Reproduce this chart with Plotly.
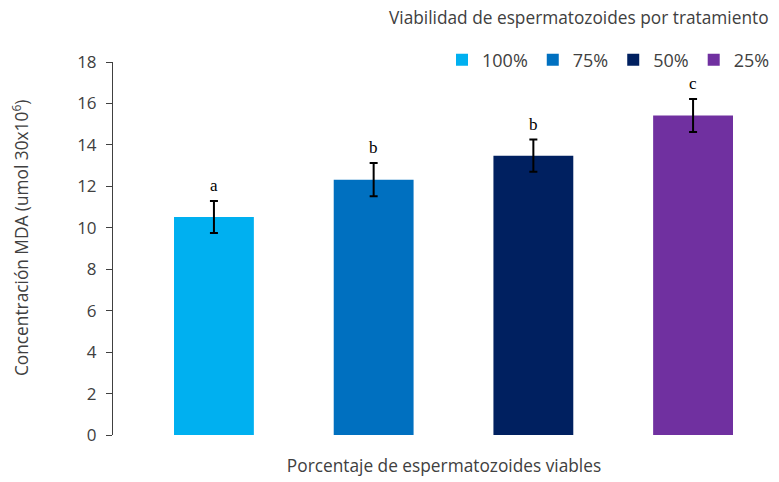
import plotly.graph_objects as go

# Treatment groups (sperm viability) and measured MDA concentration
treatments = ["100%", "75%", "50%", "25%"]
mda_values = [10.52, 12.32, 13.48, 15.42]
mda_errors = [0.77, 0.80, 0.78, 0.80]
sig_letters = ["a", "b", "b", "c"]
bar_colors = ["#00B0F0", "#0070C0", "#002060", "#7030A0"]
y_ticks = [0, 2, 4, 6, 8, 10, 12, 14, 16, 18]

FONT = "'Open Sans', Lato, sans-serif"
TXT = "#404040"

fig = go.Figure()
for name, val, err, col in zip(treatments, mda_values, mda_errors, bar_colors):
    fig.add_trace(go.Bar(
        x=[name], y=[val], name=name, width=0.5,
        marker=dict(color=col, line=dict(width=0)),
        error_y=dict(type="data", array=[err], color="black", thickness=2, width=4),
    ))

# Significance letters above the error bars
for name, val, err, letter in zip(treatments, mda_values, mda_errors, sig_letters):
    fig.add_annotation(
        x=name, y=val + err, text=letter, showarrow=False,
        yanchor="bottom", yshift=4,
        font=dict(family="Liberation Serif, serif", size=17, color="black"),
    )

# Legend heading
fig.add_annotation(
    xref="paper", yref="paper", x=0.994, y=1.118, xanchor="right", yanchor="middle",
    text="Viabilidad de espermatozoides por tratamiento", showarrow=False,
    font=dict(family=FONT, size=17.3, color=TXT),
)

# Y axis title
fig.add_annotation(
    xref="paper", yref="paper", x=-0.1405, y=0.528, xanchor="center", yanchor="middle",
    text="Concentración MDA (umol 30x10<sup>6</sup>)", textangle=-90, showarrow=False,
    font=dict(family=FONT, size=17.3, color=TXT),
)

fig.update_layout(
    width=779, height=482,
    margin=dict(l=113, r=4, t=62, b=47),
    paper_bgcolor="white", plot_bgcolor="white",
    barmode="overlay",
    font=dict(family=FONT, size=17, color=TXT),
    showlegend=True,
    legend=dict(
        orientation="h", x=1.0, y=1.005, xanchor="right", yanchor="middle",
        font=dict(family=FONT, size=18, color=TXT),
        itemwidth=30, traceorder="normal",
        bgcolor="rgba(0,0,0,0)",
    ),
    xaxis=dict(
        type="category", range=[-0.632, 3.513],
        showticklabels=False, ticks="", showline=False, showgrid=False, zeroline=False,
        title=dict(text="Porcentaje de espermatozoides viables",
                   font=dict(family=FONT, size=17.3, color=TXT), standoff=24),
    ),
    yaxis=dict(
        range=[0, 18], tickvals=y_ticks, showgrid=False, zeroline=False,
        showline=True, linecolor=TXT, linewidth=1,
        ticks="outside", ticklen=6, tickcolor=TXT, tickwidth=1,
        ticklabelstandoff=6,
        tickfont=dict(family=FONT, size=17, color=TXT),
    ),
)

fig.write_html("out.html")
